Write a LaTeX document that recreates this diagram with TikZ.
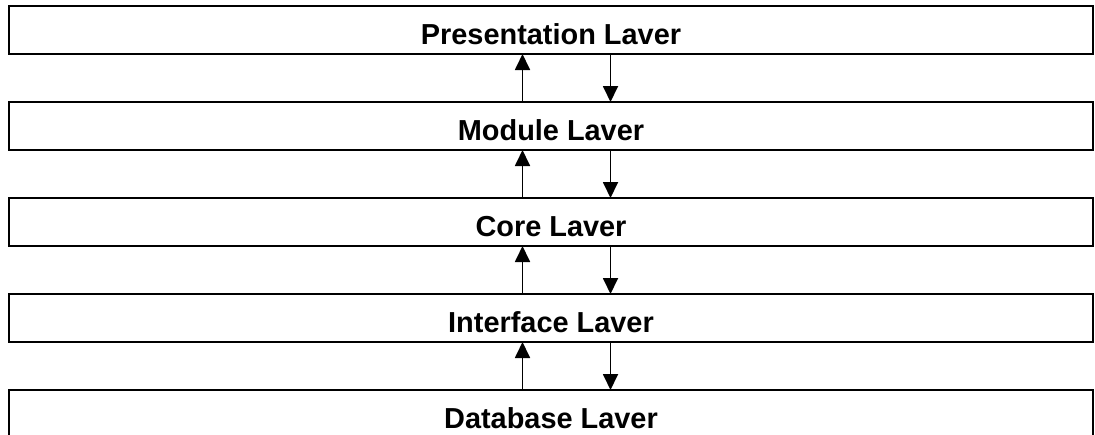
\documentclass[tikz,border=0pt]{standalone}
\usepackage{fontspec}
\setmainfont{Liberation Sans}
\usetikzlibrary{positioning}
\usetikzlibrary{arrows.meta}

\begin{document}
\begin{tikzpicture}[x=1pt,y=-1pt,
	layer/.style={draw,line width=1.8pt,outer sep=0pt,inner sep=0pt,minimum width=1084pt,minimum height=48pt,
		font=\fontsize{28.9}{30}\selectfont\bfseries,text height=28pt,text depth=0pt},
	flow/.style={-{Triangle[length=16pt,width=15pt]},line width=1.8pt}]
	%% canvas
	\useasboundingbox (0,0) rectangle (1095,434);

	\def\gap{48pt} % space between layers
	\def\upX{-28.5} % shift of upward arrows
	\def\downX{59.5} % shift of downward arrows

	\node[layer] (pres) at (551,30) {Presentation Laver};
	\node[layer,below=\gap of pres] (mod) {Module Laver};
	\node[layer,below=\gap of mod] (core) {Core Laver};
	\node[layer,below=\gap of core] (iface) {Interface Laver};
	\node[layer,below=\gap of iface] (db) {Database Laver};

	% calls go up, results come down
	\foreach \lo/\hi in {mod/pres,core/mod,iface/core,db/iface}{
		\draw[flow] ([xshift=\upX pt]\lo.north) -- ([xshift=\upX pt]\hi.south);
		\draw[flow] ([xshift=\downX pt]\hi.south) -- ([xshift=\downX pt]\lo.north);
	}

\end{tikzpicture}
\end{document}
